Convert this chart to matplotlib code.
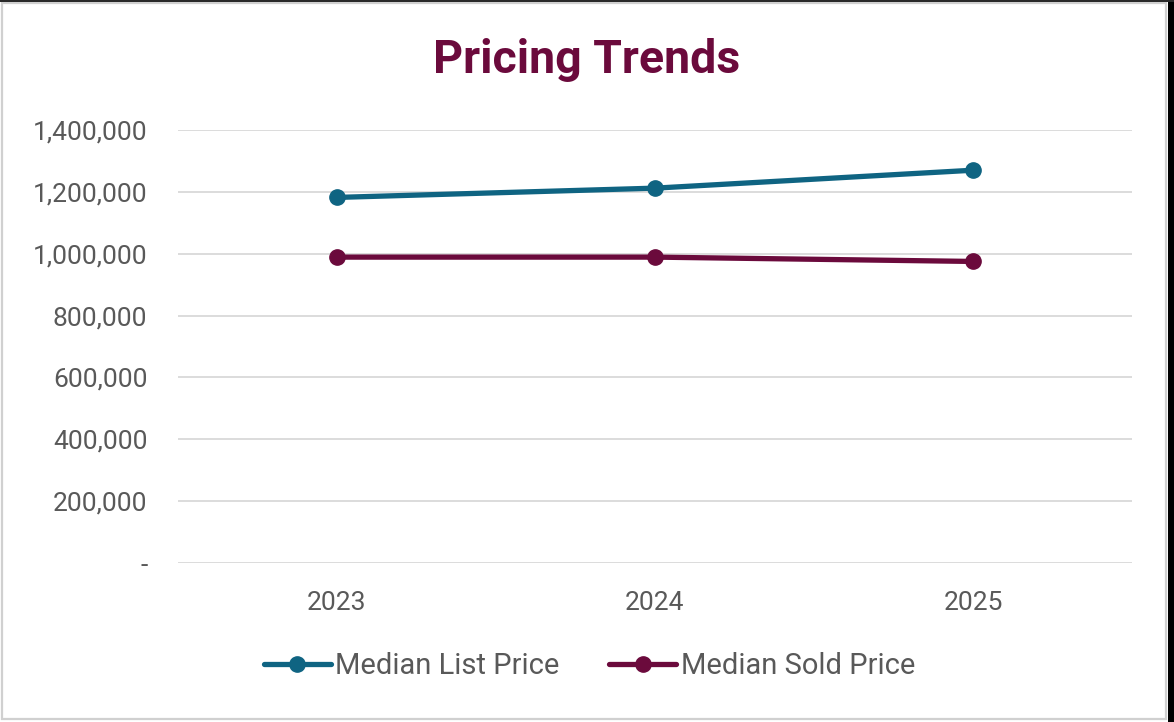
import matplotlib
matplotlib.use("Agg")
import matplotlib.pyplot as plt
from matplotlib.ticker import FuncFormatter
from matplotlib.patches import Rectangle

years = ["2023", "2024", "2025"]
list_price = [1182000, 1212000, 1270000]
sold_price = [989000, 989000, 975000]
yticks = [0, 200000, 400000, 600000, 800000, 1000000, 1200000, 1400000]

teal = "#0F6482"
maroon = "#6B0A3C"
gray = "#595959"

plt.rcParams['font.family'] = ['Roboto', 'DejaVu Sans']

W, H = 1174, 722
fig = plt.figure(figsize=(W / 100, H / 100), dpi=100)
fig.patch.set_facecolor("white")
# frame: light gray inner border, dark strips top and right
fig.add_artist(Rectangle((2 / W, 3 / H), 1164 / W, 716 / H, transform=fig.transFigure,
                         fill=False, edgecolor="#D0D0D0", linewidth=1.6))
fig.add_artist(Rectangle((1168 / W, 0), 6 / W, 1, transform=fig.transFigure,
                         facecolor="#000000", edgecolor="none"))
fig.add_artist(Rectangle((0, 1 - 2 / H), 1, 2 / H, transform=fig.transFigure,
                         facecolor="#2A2A2A", edgecolor="none"))

ax = fig.add_axes([178 / W, 1 - 563 / H, (1132 - 178) / W, (563 - 130) / H])
x = list(range(len(years)))
ax.plot(x, list_price, color=teal, lw=3.8, marker='o', ms=11, solid_capstyle='round',
        label="Median List Price", zorder=3)
ax.plot(x, sold_price, color=maroon, lw=3.8, marker='o', ms=11, solid_capstyle='round',
        label="Median Sold Price", zorder=3)

ax.set_xlim(-0.5, 2.5)
ax.set_ylim(0, 1400000)
ax.set_yticks(yticks)
ax.yaxis.set_major_formatter(FuncFormatter(lambda v, p: "-" if v == 0 else f"{int(v):,}"))
ax.set_xticks(x)
ax.set_xticklabels(years)
ax.grid(axis='y', color="#D9D9D9", lw=1.3)
ax.set_axisbelow(True)
for s in ax.spines.values():
    s.set_visible(False)
ax.tick_params(axis='both', length=0, labelsize=19, labelcolor=gray)
ax.tick_params(axis='y', pad=22)
ax.tick_params(axis='x', pad=20)

fig.text(0.5, 0.917, "Pricing Trends", ha='center', va='center', fontsize=33.5,
         color=maroon, fontweight='semibold')

leg = fig.legend(loc='center', bbox_to_anchor=(0.502, 0.077), ncol=2, frameon=False,
                 fontsize=21, labelcolor=gray, handlelength=2.3, handletextpad=0.15,
                 columnspacing=1.7)

fig.savefig("out.png", dpi=100, facecolor="white")
